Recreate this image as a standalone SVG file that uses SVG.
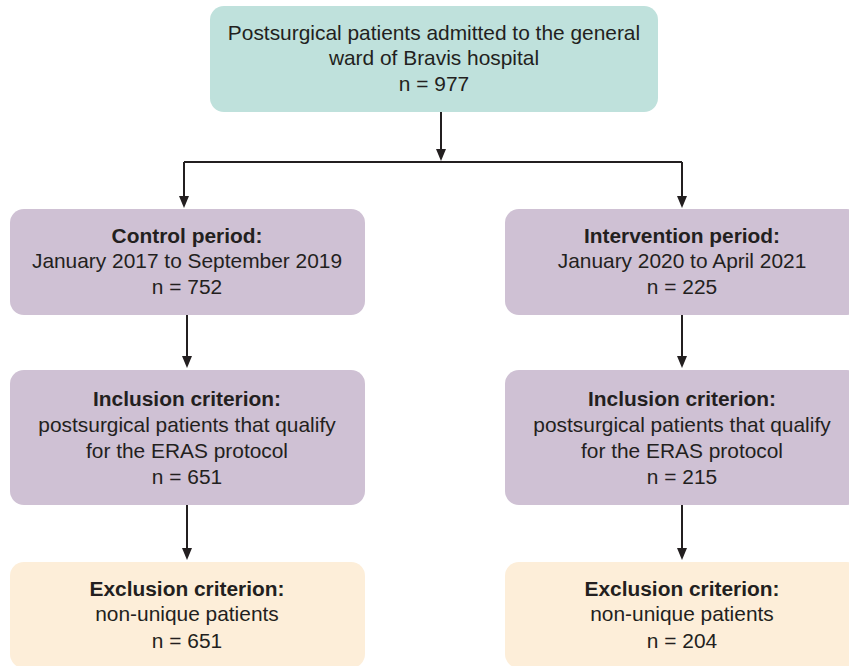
<svg xmlns="http://www.w3.org/2000/svg" width="849" height="666" viewBox="0 0 849 666">
<defs>
<style>
text{font-family:"Liberation Sans",Arial,sans-serif;font-size:20.9px;fill:#231f20;text-anchor:middle}
.b{font-weight:bold}
.teal{fill:#bfe1dc}
.purple{fill:#cfc1d4}
.cream{fill:#fdeed9}
.line{stroke:#231f20;stroke-width:2;fill:none}
.head{fill:#231f20}
</style>
</defs>
<rect width="849" height="666" fill="#ffffff"/>
<g id="connectors">
<path class="line" d="M441,112 V152"/>
<path class="head" d="M436,149 L446,149 L441,161 Z"/>
<path class="line" d="M184,162 H682"/>
<path class="line" d="M184,162 V198"/>
<path class="head" d="M179,196 L189,196 L184,208 Z"/>
<path class="line" d="M682,162 V198"/>
<path class="head" d="M677,196 L687,196 L682,208 Z"/>
<path class="line" d="M187,315 V358"/>
<path class="head" d="M182,356 L192,356 L187,368 Z"/>
<path class="line" d="M682,315 V358"/>
<path class="head" d="M677,356 L687,356 L682,368 Z"/>
<path class="line" d="M187,505 V550"/>
<path class="head" d="M182,548 L192,548 L187,560 Z"/>
<path class="line" d="M682,505 V550"/>
<path class="head" d="M677,548 L687,548 L682,560 Z"/>
</g>
<g id="top">
<rect class="teal" x="210" y="6" width="448" height="106" rx="14"/>
<text x="434" y="40">Postsurgical patients admitted to the general</text>
<text x="434" y="65">ward of Bravis hospital</text>
<text x="434" y="91">n = 977</text>
</g>
<g id="control">
<rect class="purple" x="10" y="209" width="355" height="106" rx="14"/>
<text class="b" x="187" y="243">Control period:</text>
<text x="187" y="268">January 2017 to September 2019</text>
<text x="187" y="294">n = 752</text>
</g>
<g id="intervention">
<rect class="purple" x="505" y="209" width="356" height="106" rx="14"/>
<text class="b" x="682" y="243">Intervention period:</text>
<text x="682" y="268">January 2020 to April 2021</text>
<text x="682" y="294">n = 225</text>
</g>
<g id="inclusion-left">
<rect class="purple" x="10" y="370" width="355" height="135" rx="14"/>
<text class="b" x="187" y="406">Inclusion criterion:</text>
<text x="187" y="432">postsurgical patients that qualify</text>
<text x="187" y="458">for the ERAS protocol</text>
<text x="187" y="484">n = 651</text>
</g>
<g id="inclusion-right">
<rect class="purple" x="505" y="370" width="356" height="135" rx="14"/>
<text class="b" x="682" y="406">Inclusion criterion:</text>
<text x="682" y="432">postsurgical patients that qualify</text>
<text x="682" y="458">for the ERAS protocol</text>
<text x="682" y="484">n = 215</text>
</g>
<g id="exclusion-left">
<rect class="cream" x="10" y="562" width="355" height="106" rx="14"/>
<text class="b" x="187" y="596">Exclusion criterion:</text>
<text x="187" y="621">non-unique patients</text>
<text x="187" y="648">n = 651</text>
</g>
<g id="exclusion-right">
<rect class="cream" x="505" y="562" width="356" height="106" rx="14"/>
<text class="b" x="682" y="596">Exclusion criterion:</text>
<text x="682" y="621">non-unique patients</text>
<text x="682" y="648">n = 204</text>
</g>
</svg>
